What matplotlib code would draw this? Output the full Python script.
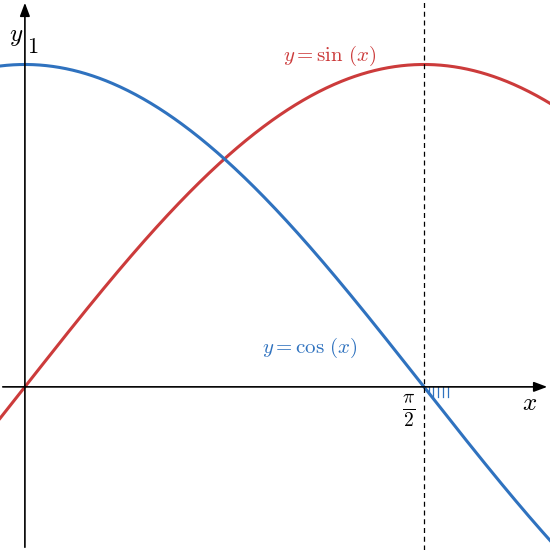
import numpy as np
import matplotlib
matplotlib.use("Agg")
import matplotlib.pyplot as plt

plt.rcParams['mathtext.fontset'] = 'cm'
x_min, x_max = -0.098, 2.067
y_min, y_max = -0.506, 1.2
hatch_x = [1.575, 1.59, 1.606, 1.626, 1.646, 1.665]

fig = plt.figure(figsize=(5.5, 5.5), dpi=100)
ax = fig.add_axes([0, 0, 1, 1])
ax.set_xlim(x_min, x_max)
ax.set_ylim(y_min, y_max)
ax.axis('off')

xs = np.linspace(x_min, x_max, 500)
red = '#cc3b3b'
blue = '#2f72bf'
ax.plot(xs, np.sin(xs), color=red, lw=2.2)
ax.plot(xs, np.cos(xs), color=blue, lw=2.2)

ax.annotate('', xy=(x_max, 0), xytext=(x_min, 0),
            arrowprops=dict(arrowstyle='-|>,head_length=0.8,head_width=0.3', color='black', lw=1.2))
ax.annotate('', xy=(0, y_max), xytext=(0, y_min),
            arrowprops=dict(arrowstyle='-|>,head_length=0.8,head_width=0.3', color='black', lw=1.2))
ax.axvline(np.pi/2, color='black', lw=0.9, ls=(0, (4, 3)))

for hx in hatch_x:
    ax.plot([hx, hx], [0, max(np.cos(hx), -0.032)], color=blue, lw=0.9)

ax.text(-0.008, 1.087, '$y$', fontsize=18, ha='right', va='center')
ax.text(0.01, 1.055, '$1$', fontsize=16, ha='left', va='center')
ax.text(1.955, -0.05, '$x$', fontsize=18, ha='left', va='center')
ax.text(1.51, -0.075, r'$\frac{\pi}{2}$', fontsize=20, ha='center', va='center')
ax.text(1.2, 1.025, r'$y = \sin\,(x)$', fontsize=15, color=red, ha='center', va='center')
ax.text(1.12, 0.12, r'$y = \cos\,(x)$', fontsize=15, color=blue, ha='center', va='center')

fig.savefig('out.png', dpi=100)
